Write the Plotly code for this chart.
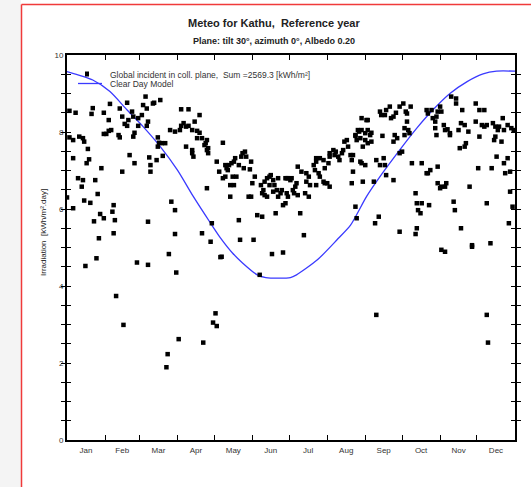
import plotly.graph_objects as go

# ---- data -------------------------------------------------------------
months = ["Jan", "Feb", "Mar", "Apr", "May", "Jun",
          "Jul", "Aug", "Sep", "Oct", "Nov", "Dec"]
month_days = [31, 28, 31, 30, 31, 30, 31, 31, 30, 31, 30, 31]

# daily global irradiation on the collector plane [kWh/m².day]
day_of_year = [
    0, 2, 7, 2, 5, 10, 13, 14, 5, 17, 18, 16, 9, 13, 12, 23, 25, 14, 19, 5, 22, 27, 30, 26,
    21, 20, 30, 34, 35, 28, 30, 32, 34, 36, 43, 45, 49, 50, 47, 49, 42, 43, 51, 55, 45, 38,
    37, 39, 38, 66, 53, 54, 58, 61, 58, 55, 54, 62, 64, 71, 70, 76, 67, 68, 73, 68, 74, 75,
    77, 80, 74, 65, 66, 65, 78, 85, 88, 88, 93, 99, 84, 88, 92, 93, 95, 97, 99, 102, 104,
    106, 108, 97, 102, 102, 103, 106, 112, 114, 115, 122, 124, 110, 118, 117,
    15, 24, 40, 46, 57, 66, 83, 89, 82, 81, 91, 111, 121, 119, 122, 125,
    108, 110, 113, 115, 114, 127, 114, 129, 130, 132, 134, 136, 137, 131, 129, 127, 135,
    138, 136, 143, 145, 146, 142, 144, 140, 150, 149, 153, 151, 148, 150, 133, 133, 140,
    141, 152, 155, 159, 158, 160, 159, 161, 163, 161, 163, 165, 166, 168, 165, 169, 171,
    168, 174, 172, 175, 172, 178, 179, 180, 182, 183, 179, 180, 178, 170, 176, 184, 186,
    187, 185, 188, 190, 193, 188, 191, 195, 197, 195, 198, 194, 197, 201, 203, 202, 205,
    206, 203, 209, 212, 203, 206, 209, 210, 213, 214, 214, 217, 218, 219, 221, 222, 224,
    225, 226, 228, 229, 231, 232, 233, 233, 235, 237, 236, 239, 210, 214, 232, 167, 176,
    157, 126,
    235, 236, 240, 244, 245, 235, 238, 240, 243, 245, 247, 248, 243, 245, 241, 248, 240,
    243, 239, 250, 241, 251, 254, 255, 256, 259, 260, 263, 264, 266, 268, 271, 274, 276,
    277, 280, 257, 267, 269, 266, 258, 260, 259, 266, 252, 255, 271, 273, 275, 278, 279,
    277, 275, 281, 289, 294, 296, 293, 284, 285, 286, 288, 289, 295, 285, 284, 271, 293,
    294, 297, 298, 300, 301, 302, 304, 305, 300, 301, 308, 307, 310, 312, 302, 302, 305,
    304, 309, 308, 313, 317, 317, 312, 319, 321, 324, 320, 324, 325, 327, 322, 315, 316,
    321, 328, 333, 336, 340, 338, 340, 342, 333, 336, 335, 346, 347, 349, 351, 349, 348,
    352, 355, 354, 356, 359, 362, 364, 350, 356, 359, 357, 361, 342, 361, 363, 360, 345,
    330, 330, 305, 308, 252, 342, 343,
]
irradiation = [
    6.30, 8.55, 8.50, 7.86, 7.79, 7.88, 7.84, 7.75, 7.32, 7.56, 7.29, 7.19, 6.80, 6.75, 6.58,
    6.75, 6.39, 6.22, 6.16, 6.02, 5.68, 5.87, 5.76, 5.24,
    8.62, 8.47, 8.50, 8.31, 8.73, 7.06, 7.95, 7.95, 8.03, 8.05, 8.61, 8.40, 8.76, 8.31, 8.21,
    8.16, 7.92, 7.86, 7.40, 7.19, 6.97, 6.10, 5.93, 5.71, 5.37, 5.67, 8.53, 8.40, 8.36, 8.44,
    8.16, 7.98, 7.88, 8.70, 8.92, 8.76, 8.74, 8.83, 7.34, 7.14, 7.27, 6.97, 7.86, 7.72, 7.71,
    7.71, 7.62, 8.61, 8.27, 8.16, 7.38, 6.19, 5.97, 5.35, 8.59, 8.59, 8.05, 8.01, 8.05, 8.16,
    8.23, 8.14, 8.16, 8.05, 8.27, 8.03, 7.98, 7.62, 7.53, 7.45, 7.36, 7.84, 7.66, 7.53, 7.45,
    7.23, 6.97, 5.37, 5.63, 5.15,
    4.52, 4.72, 3.74, 2.99, 4.61, 4.55, 4.83, 4.35, 2.23, 1.89, 2.62, 2.53, 3.29, 3.05, 2.96,
    4.75,
    8.44, 7.84, 7.71, 7.58, 7.79, 7.72, 6.54, 7.14, 7.06, 7.14, 7.19, 7.23, 7.32, 7.01, 6.84,
    6.80, 6.84, 6.84, 6.62, 7.45, 7.49, 7.36, 7.36, 7.06, 7.14, 7.23, 7.03, 6.84, 6.67, 6.32,
    6.32, 6.62, 6.32, 5.71, 5.20, 5.20, 5.84, 5.80, 6.62, 6.49, 6.41, 6.36, 6.32, 6.71, 6.80,
    6.84, 6.88, 6.75, 6.62, 6.62, 6.49, 6.45, 6.41, 6.32, 6.49, 6.80, 6.80, 6.80, 6.80, 6.75,
    6.80, 6.41, 6.32, 6.15, 5.89, 6.10, 6.49, 6.58, 6.67, 6.41, 6.36, 5.89, 5.32, 7.10, 6.97,
    6.93, 6.84, 6.71, 6.62, 6.41, 6.32, 7.14, 7.23, 7.01, 6.93, 6.84, 6.62, 6.71, 6.67, 7.32,
    7.32, 7.27, 7.06, 7.19, 7.36, 7.45, 7.53, 7.40, 7.49, 7.36, 7.27, 7.45, 7.53, 7.75, 7.79,
    7.62, 7.40, 7.27, 7.40, 6.97, 7.92, 8.05, 7.79, 7.84, 6.67, 6.58, 6.67, 4.83, 4.87, 4.29,
    4.76,
    6.06, 5.76, 8.36, 8.31, 8.31, 7.90, 8.01, 8.05, 7.97, 8.05, 7.92, 7.98, 7.79, 7.71, 7.62,
    7.75, 7.19, 7.14, 7.23, 6.71, 6.71, 5.63, 5.80, 8.53, 8.44, 8.44, 8.57, 8.66, 8.36, 8.40,
    8.50, 8.66, 8.74, 8.53, 8.48, 8.66, 7.90, 7.92, 7.84, 7.75, 7.32, 6.88, 7.14, 6.75, 7.27,
    7.14, 7.45, 7.49, 8.10, 8.05, 7.97, 8.27, 7.92, 7.19, 7.19, 6.93, 7.01, 6.93, 6.41, 6.15,
    5.97, 5.89, 6.15, 6.10, 5.50, 5.35, 5.41, 8.57, 8.48, 8.57, 8.36, 8.27, 8.40, 8.53, 8.66,
    8.53, 8.10, 7.92, 8.05, 8.18, 8.07, 7.97, 7.10, 6.67, 6.58, 6.54, 6.67, 6.58, 8.92, 8.87,
    8.74, 7.92, 8.05, 8.23, 8.18, 7.58, 7.62, 7.71, 8.01, 8.57, 6.19, 5.97, 5.50, 6.58, 8.74,
    8.57, 8.57, 8.18, 8.14, 8.18, 8.27, 7.88, 7.06, 7.06, 8.23, 8.14, 8.05, 7.88, 7.79, 8.14,
    8.36, 7.75, 8.05, 8.18, 8.10, 8.05, 7.36, 7.19, 7.32, 6.93, 6.97, 6.15, 6.45, 6.06, 5.63,
    5.11, 5.06, 5.02, 4.94, 4.89, 3.25, 3.25, 2.53,
]

# clear-day model on the same plane
model_day = [0, 21, 35, 49, 62, 76, 90, 103, 117, 125, 135, 143, 155, 162, 182, 187,
             204, 220, 231, 244, 257, 271, 285, 298, 312, 326, 339, 350, 365]
model_value = [9.57, 9.35, 9.05, 8.57, 8.14, 7.62, 7.01, 6.32, 5.63, 5.25, 4.85, 4.60,
               4.29, 4.22, 4.22, 4.29, 4.68, 5.20, 5.58, 6.32, 6.93, 7.53, 8.10, 8.57,
               9.00, 9.31, 9.51, 9.58, 9.58]

y_labelled = [0, 2, 4, 6, 8, 10]
y_step = 0.5

# ---- helpers ----------------------------------------------------------
W, H = 531, 487
ML, MR, MT, MB = 67, 16, 55, 47
PW, PH = W - ML - MR, H - MT - MB


def px(x):
    return (x - ML) / PW


def py(y):
    return (H - MB - y) / PH


FONT = "Liberation Sans Narrow, Arial Narrow, Liberation Sans, Arial, sans-serif"

bounds = [0]
for d in month_days:
    bounds.append(bounds[-1] + d)
centers = [(a + b) / 2 for a, b in zip(bounds[:-1], bounds[1:])]

y_tickvals = [i * y_step for i in range(int(10 / y_step) + 1)]
y_ticktext = [str(int(v)) if v in y_labelled else "" for v in y_tickvals]

fig = go.Figure()
fig.add_trace(go.Scatter(
    x=model_day, y=model_value, mode="lines",
    line=dict(color="#3a3aff", width=1.3, shape="spline", smoothing=0.7),
    hoverinfo="skip", showlegend=False))
fig.add_trace(go.Scatter(
    x=day_of_year, y=irradiation, mode="markers",
    marker=dict(symbol="square", size=4.5, color="black", line=dict(width=0)),
    showlegend=False))

tick_font = dict(family=FONT, size=8, color="#333333")

# frame + month-boundary ticks on bottom and top
fig.update_layout(xaxis=dict(
    range=[0, 365], tickmode="array", tickvals=bounds[1:-1],
    ticktext=[""] * (len(bounds) - 2), ticks="inside", ticklen=5, tickwidth=1,
    tickcolor="black", showgrid=False, zeroline=False, showline=True,
    linecolor="black", linewidth=2, mirror="allticks"))
# month names centred between the boundaries
fig.update_layout(xaxis2=dict(
    range=[0, 365], overlaying="x", side="bottom", tickmode="array",
    tickvals=centers, ticktext=months, ticks="", showline=False, showgrid=False,
    zeroline=False, tickfont=tick_font, ticklabelstandoff=4))
fig.update_layout(yaxis=dict(
    range=[0, 10], tickmode="array", tickvals=y_tickvals, ticktext=y_ticktext,
    ticks="inside", ticklen=4, tickwidth=1, tickcolor="black", tickfont=tick_font,
    showgrid=False, zeroline=False, showline=True, linecolor="black", linewidth=2,
    mirror="allticks"))
# carrier trace for the month-name axis
fig.add_trace(go.Scatter(x=[0, 365], y=[None, None], xaxis="x2", mode="lines",
                         showlegend=False, hoverinfo="skip"))

shapes = [
    # grey page strip and red frame
    dict(type="rect", xref="paper", yref="paper", x0=px(0), x1=px(21), y0=py(H), y1=py(0),
         fillcolor="#f4f4f4", line=dict(width=0), layer="below"),
    dict(type="line", xref="paper", yref="paper", x0=px(21.5), x1=px(21.5),
         y0=py(4.5), y1=py(H), line=dict(color="#f03a3a", width=1.5)),
    dict(type="line", xref="paper", yref="paper", x0=px(21.5), x1=px(W),
         y0=py(4.5), y1=py(4.5), line=dict(color="#f03a3a", width=1.5)),
    # legend symbols
    dict(type="rect", xref="paper", yref="paper", x0=px(85), x1=px(89),
         y0=py(76.5), y1=py(71.5), fillcolor="black", line=dict(width=0)),
    dict(type="line", xref="paper", yref="paper", x0=px(78), x1=px(102),
         y0=py(83.5), y1=py(83.5), line=dict(color="#3a3aff", width=1.3)),
]

annotations = [
    dict(text="<b>Meteo for Kathu,  Reference year</b>", x=px(274), y=py(23),
         font=dict(family=FONT, size=11, color="#222222")),
    dict(text="<b>Plane: tilt 30°, azimuth 0°, Albedo 0.20</b>", x=px(274), y=py(41),
         font=dict(family=FONT, size=9, color="#222222")),
    dict(text="Irradiation  [kWh/m².day]", x=px(43), y=py(233), textangle=-90,
         font=dict(family=FONT, size=8, color="#222222")),
    dict(text="Global incident in coll. plane,  Sum =2569.3 [kWh/m²]", x=px(108),
         y=py(75), xanchor="left",
         font=dict(family=FONT, size=8.5, color="#333333")),
    dict(text="Clear Day Model", x=px(108), y=py(84), xanchor="left",
         font=dict(family=FONT, size=8.5, color="#333333")),
]
for a in annotations:
    a.update(xref="paper", yref="paper", showarrow=False)
    a.setdefault("xanchor", "center")
    a["yanchor"] = "middle"

fig.update_layout(width=W, height=H, margin=dict(l=ML, r=MR, t=MT, b=MB),
                  paper_bgcolor="white", plot_bgcolor="white",
                  shapes=shapes, annotations=annotations, showlegend=False)

fig.write_html("out.html")
